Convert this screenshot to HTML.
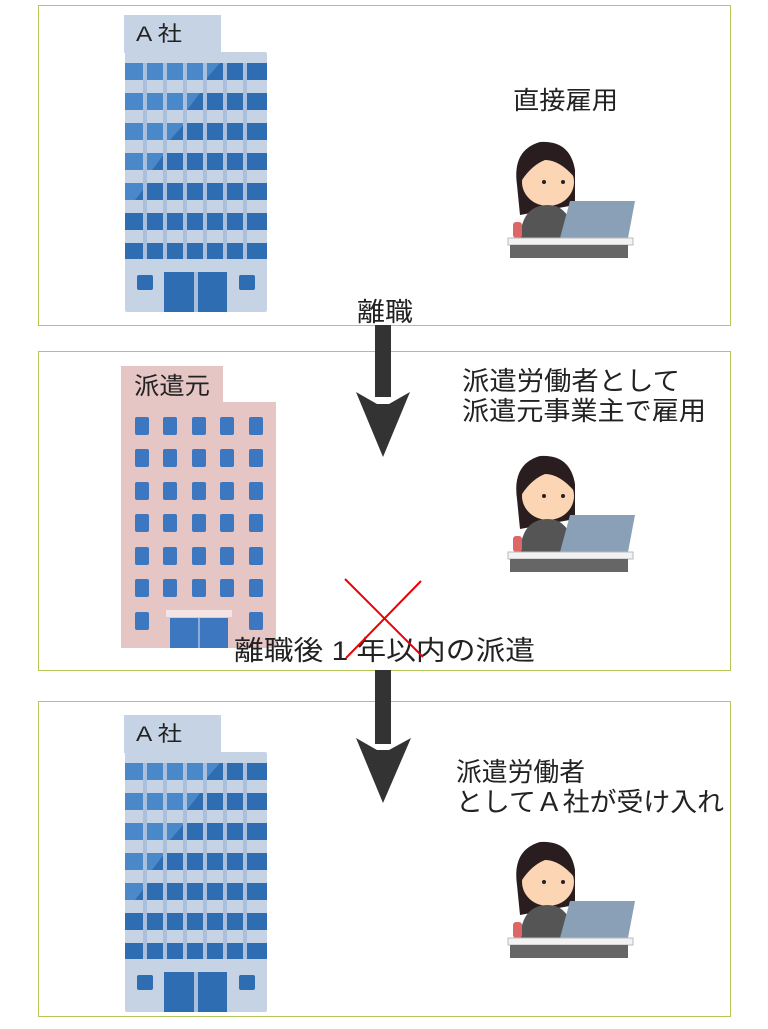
<!DOCTYPE html>
<html><head><meta charset="utf-8"><style>
html,body{margin:0;padding:0;background:#fff;}
svg text{font-family:"Liberation Sans","Noto Sans CJK JP",sans-serif;fill:#222;}
</style></head><body>
<svg width="768" height="1024" viewBox="0 0 768 1024" xmlns="http://www.w3.org/2000/svg">
<defs>
<g id="bldA">
  <rect x="124" y="15" width="97" height="38" fill="#c5d3e5"/>
  <rect x="125" y="52" width="142" height="260" fill="#c5d3e5" rx="2"/>
  <g fill="#2f6db3">
    <rect x="125" y="63" width="142" height="17"/>
    <rect x="125" y="93" width="142" height="17"/>
    <rect x="125" y="123" width="142" height="17"/>
    <rect x="125" y="153" width="142" height="17"/>
    <rect x="125" y="183" width="142" height="17"/>
    <rect x="125" y="213" width="142" height="17"/>
    <rect x="125" y="243" width="142" height="16"/>
    <rect x="164" y="272" width="63" height="40"/>
    <rect x="137" y="275" width="16" height="15" rx="2"/>
    <rect x="239" y="275" width="16" height="15" rx="2"/>
  </g>
  <g fill="#4f8ccc" opacity="0.9">
    <polygon points="125,63 220,63 205,80 125,80"/>
    <polygon points="125,93 200,93 187,110 125,110"/>
    <polygon points="125,123 185,123 170,140 125,140"/>
    <polygon points="125,153 165,153 152,170 125,170"/>
    <polygon points="125,183 148,183 135,200 125,200"/>
  </g>
  <g fill="#a9bfdc">
    <rect x="143" y="63" width="4" height="196"/>
    <rect x="163" y="63" width="4" height="196"/>
    <rect x="183" y="63" width="4" height="196"/>
    <rect x="203" y="63" width="4" height="196"/>
    <rect x="223" y="63" width="4" height="196"/>
    <rect x="243" y="63" width="4" height="196"/>
    <rect x="194" y="272" width="4" height="40"/>
  </g>
</g>
<g id="person">
  <path d="M517,185 Q512,150 540,142 Q570,140 575,170 L575,205 L520,215 Z" fill="#2a1d1f"/>
  <ellipse cx="548" cy="182" rx="26" ry="24" fill="#fbd5b4"/>
  <path d="M522,175 Q530,150 552,152 Q570,155 575,178 Q560,160 545,160 Q532,165 522,180 Z" fill="#2a1d1f"/>
  <circle cx="544" cy="182" r="2" fill="#222"/><circle cx="563" cy="182" r="2" fill="#222"/>
  <path d="M520,238 Q522,205 548,205 Q565,205 572,225 L572,238 Z" fill="#555"/>
  <rect x="513" y="222" width="9" height="16" rx="3" fill="#d66"/>
  <polygon points="570,201 635,201 628,238 560,238" fill="#8aa0b6"/>
  <rect x="508" y="238" width="125" height="7" fill="#f2f2f2" stroke="#bbb"/>
  <rect x="510" y="245" width="118" height="13" fill="#666"/>
</g>
</defs>

<g fill="none" stroke="#b4c85a" stroke-width="1">
  <rect x="38.5" y="5.5" width="692" height="320"/>
  <rect x="38.5" y="351.5" width="692" height="319"/>
  <rect x="38.5" y="701.5" width="692" height="315"/>
</g>

<use href="#bldA"/>
<text x="136" y="41" font-size="21" textLength="46" lengthAdjust="spacingAndGlyphs">A 社</text>
<use href="#person"/>
<text x="513" y="109" font-size="25" textLength="105" lengthAdjust="spacingAndGlyphs">直接雇用</text>

<!-- pink building -->
<rect x="121" y="366" width="102" height="40" fill="#e6c5c5"/>
<rect x="121" y="402" width="155" height="246" fill="#e6c5c5"/>
<g fill="#3d77bf">
  <g id="prow">
  <rect x="135" y="417" width="14" height="18" rx="2"/><rect x="163" y="417" width="14" height="18" rx="2"/><rect x="192" y="417" width="14" height="18" rx="2"/><rect x="220" y="417" width="14" height="18" rx="2"/><rect x="249" y="417" width="14" height="18" rx="2"/>
  </g>
  <use href="#prow" y="32"/><use href="#prow" y="65"/><use href="#prow" y="97"/><use href="#prow" y="130"/><use href="#prow" y="162"/>
  <rect x="135" y="612" width="14" height="18" rx="2"/><rect x="249" y="612" width="14" height="18" rx="2"/>
  <rect x="170" y="618" width="58" height="30"/>
</g>
<rect x="166" y="610" width="66" height="7" fill="#f4e4e4"/>
<rect x="198" y="618" width="2" height="30" fill="#8aaedb"/>
<text x="134" y="394" font-size="24" textLength="76" lengthAdjust="spacingAndGlyphs">派遣元</text>

<use href="#person" y="314"/>
<text x="462" y="390" font-size="26" textLength="218" lengthAdjust="spacingAndGlyphs">派遣労働者として</text>
<text x="462" y="420" font-size="26" textLength="244" lengthAdjust="spacingAndGlyphs">派遣元事業主で雇用</text>

<use href="#bldA" y="700"/>
<text x="136" y="741" font-size="21" textLength="46" lengthAdjust="spacingAndGlyphs">A 社</text>
<use href="#person" y="700"/>
<text x="456" y="781" font-size="26" textLength="129" lengthAdjust="spacingAndGlyphs">派遣労働者</text>
<text x="456" y="811" font-size="26" textLength="268" lengthAdjust="spacingAndGlyphs">としてＡ社が受け入れ</text>

<!-- arrows -->
<rect x="375" y="325" width="16" height="72" fill="#333"/>
<polygon points="356,392 377,404 389,404 410,392 383,457" fill="#333"/>
<text x="357" y="321" font-size="26" textLength="56" lengthAdjust="spacingAndGlyphs">離職</text>

<rect x="375" y="670" width="16" height="74" fill="#333"/>
<polygon points="356,738 377,750 389,750 411,738 383,803" fill="#333"/>

<text x="234" y="660" font-size="27" textLength="301" lengthAdjust="spacingAndGlyphs">離職後 1 年以内の派遣</text>
<g stroke="#ee0000" stroke-width="2">
  <line x1="345" y1="579" x2="423" y2="657"/>
  <line x1="421" y1="581" x2="346" y2="658"/>
</g>
</svg>
</body></html>
